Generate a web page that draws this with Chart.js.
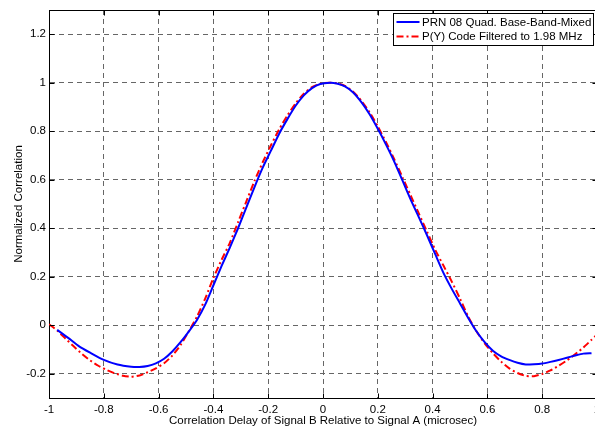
<!DOCTYPE html>
<html>
<head>
<meta charset="utf-8">
<script src="https://cdn.jsdelivr.net/npm/chart.js@4"></script>
<style>
  html, body { margin: 0; padding: 0; background: #fff; overflow: hidden; }
  #wrap { width: 595px; height: 427px; overflow: hidden; }
  canvas { display: block; }
</style>
</head>
<body>
<div id="wrap"><canvas id="c" width="600" height="427" style="width:600px;height:427px"></canvas></div>
<script>
// ---- Data ----
const seriesNames = ['PRN 08 Quad. Base-Band-Mixed', 'P(Y) Code Filtered to 1.98 MHz'];

const blueX = [-0.97,-0.93,-0.89,-0.85,-0.80,-0.75,-0.70,-0.67,-0.64,-0.61,-0.58,-0.55,-0.52,-0.49,-0.46,-0.43,-0.40,-0.37,-0.34,-0.31,-0.28,-0.25,-0.22,-0.19,-0.16,-0.13,-0.10,-0.07,-0.04,-0.01,0.025,0.05,0.08,0.11,0.14,0.17,0.20,0.23,0.26,0.29,0.32,0.35,0.38,0.41,0.44,0.47,0.50,0.53,0.56,0.59,0.62,0.65,0.68,0.71,0.74,0.77,0.80,0.83,0.86,0.89,0.92,0.95,0.98];
const blueY = [-0.019,-0.052,-0.087,-0.113,-0.143,-0.162,-0.171,-0.172,-0.168,-0.157,-0.138,-0.108,-0.070,-0.026,0.022,0.085,0.165,0.245,0.320,0.400,0.485,0.570,0.650,0.720,0.790,0.850,0.905,0.948,0.978,0.995,1.000,0.997,0.985,0.960,0.920,0.870,0.810,0.745,0.675,0.597,0.518,0.445,0.370,0.292,0.215,0.150,0.090,0.030,-0.025,-0.070,-0.105,-0.128,-0.143,-0.155,-0.162,-0.161,-0.158,-0.151,-0.143,-0.134,-0.125,-0.117,-0.115];

const redX = [-1.0,-0.97,-0.94,-0.91,-0.88,-0.85,-0.82,-0.79,-0.76,-0.73,-0.70,-0.67,-0.64,-0.61,-0.58,-0.55,-0.52,-0.49,-0.46,-0.43,-0.40,-0.37,-0.34,-0.31,-0.28,-0.25,-0.22,-0.19,-0.16,-0.13,-0.10,-0.07,-0.04,-0.01,0.025,0.05,0.08,0.11,0.14,0.17,0.20,0.23,0.26,0.29,0.32,0.35,0.38,0.41,0.44,0.47,0.50,0.53,0.56,0.59,0.62,0.65,0.68,0.71,0.74,0.77,0.80,0.83,0.86,0.89,0.92,0.95,0.98,1.0];
const redY = [0.004,-0.022,-0.055,-0.087,-0.118,-0.145,-0.167,-0.184,-0.198,-0.208,-0.212,-0.207,-0.194,-0.178,-0.157,-0.125,-0.082,-0.025,0.035,0.110,0.195,0.270,0.340,0.425,0.510,0.595,0.672,0.742,0.808,0.865,0.915,0.955,0.982,0.996,1.000,0.998,0.987,0.963,0.926,0.878,0.820,0.755,0.685,0.610,0.535,0.460,0.385,0.310,0.245,0.180,0.110,0.035,-0.025,-0.075,-0.115,-0.150,-0.178,-0.197,-0.209,-0.210,-0.201,-0.186,-0.167,-0.145,-0.120,-0.092,-0.060,-0.038];

const xTicks = [-1,-0.8,-0.6,-0.4,-0.2,0,0.2,0.4,0.6,0.8,1];
const yTicks = [-0.2,0,0.2,0.4,0.6,0.8,1,1.2];
const xTitle = 'Correlation Delay of Signal B Relative to Signal A (microsec)';
const yTitle = 'Normalized Correlation';

const FONT = 'Liberation Sans, Arial, Helvetica, sans-serif';
const FS = 11.5;
const toPts = (xs, ys) => xs.map((x, i) => ({x: x, y: ys[i]}));
const fmt = v => String(Math.round(v * 10) / 10);

const boxPlugin = {
  id: 'boxAndTicks',
  afterDraw(chart) {
    const {ctx, chartArea: a} = chart;
    const xs = chart.scales.x, ys = chart.scales.y;
    ctx.save();
    ctx.strokeStyle = '#000';
    ctx.lineWidth = 1;
    ctx.setLineDash([]);
    const top = Math.round(a.top) + 0.5, right = Math.round(a.right) + 0.5;
    const left = Math.round(a.left) + 0.5, bottom = Math.round(a.bottom) + 0.5;
    ctx.beginPath();
    ctx.moveTo(left, top); ctx.lineTo(right, top); ctx.lineTo(right, bottom);
    ctx.stroke();
    const L = 5;
    ctx.beginPath();
    xTicks.forEach(v => {
      const px = Math.round(xs.getPixelForValue(v)) + 0.5;
      ctx.moveTo(px, bottom); ctx.lineTo(px, bottom - L);
      ctx.moveTo(px, top); ctx.lineTo(px, top + L);
    });
    yTicks.forEach(v => {
      const py = Math.round(ys.getPixelForValue(v)) + 0.5;
      ctx.moveTo(left, py); ctx.lineTo(left + L, py);
      ctx.moveTo(right, py); ctx.lineTo(right - L, py);
    });
    ctx.stroke();
    // legend box
    const w = 200, h = 32;
    const x0 = Math.round(a.right - 204) + 0.5, y0 = Math.round(a.top + 3) + 0.5;
    ctx.fillStyle = '#fff';
    ctx.fillRect(x0, y0, w, h);
    ctx.strokeRect(x0, y0, w, h);
    ctx.font = FS + 'px ' + FONT;
    ctx.textBaseline = 'middle';
    ctx.textAlign = 'left';
    chart.data.datasets.forEach((ds, i) => {
      const ly = y0 + 8.5 + i * 14.5;
      ctx.save();
      ctx.strokeStyle = ds.borderColor;
      ctx.lineWidth = ds.borderWidth;
      ctx.setLineDash(ds.borderDash || []);
      ctx.beginPath();
      ctx.moveTo(x0 + 3, ly); ctx.lineTo(x0 + 26, ly);
      ctx.stroke();
      ctx.restore();
      ctx.fillStyle = '#000';
      ctx.fillText(ds.label, x0 + 28.5, ly + 0.5);
    });
    ctx.restore();
  }
};

new Chart(document.getElementById('c'), {
  type: 'scatter',
  data: {
    datasets: [
      { label: seriesNames[0], data: toPts(blueX, blueY), showLine: true, borderColor: '#0000ff',
        borderWidth: 2, pointRadius: 0, fill: false, tension: 0.2 },
      { label: seriesNames[1], data: toPts(redX, redY), showLine: true, borderColor: '#ff0000',
        borderWidth: 2, borderDash: [7, 3, 2, 3], pointRadius: 0, fill: false, tension: 0.2 }
    ]
  },
  options: {
    responsive: false,
    animation: false,
    devicePixelRatio: 1,
    layout: { padding: { top: 10, right: 3, left: 0, bottom: 0 } },
    plugins: { legend: { display: false }, tooltip: { enabled: false } },
    scales: {
      x: {
        type: 'linear', min: -1, max: 1,
        afterBuildTicks: s => { s.ticks = xTicks.map(v => ({value: v})); },
        afterFit: s => { s.height = 29; s.paddingRight = 0; s.paddingLeft = 0; },
        ticks: { callback: v => fmt(v), color: '#000', padding: 5, maxRotation: 0, autoSkip: false,
                 font: { family: FONT, size: FS } },
        grid: { color: '#666', lineWidth: 1, drawTicks: false },
        border: { display: true, color: '#000', width: 1, dash: [5, 4] },
        title: { display: true, text: xTitle, color: '#000', padding: { top: 0, bottom: -1 },
                 font: { family: FONT, size: FS } }
      },
      y: {
        type: 'linear', min: -0.3, max: 1.3,
        afterBuildTicks: s => { s.ticks = yTicks.map(v => ({value: v})); },
        afterFit: s => { s.width = 49; },
        ticks: { callback: v => fmt(v), color: '#000', padding: 3, autoSkip: false,
                 font: { family: FONT, size: FS } },
        grid: { color: '#666', lineWidth: 1, drawTicks: false },
        border: { display: true, color: '#000', width: 1, dash: [5, 4] },
        title: { display: true, text: yTitle, color: '#000', padding: { top: 12, bottom: 0 },
                 font: { family: FONT, size: FS } }
      }
    }
  },
  plugins: [boxPlugin]
});
</script>
</body>
</html>
